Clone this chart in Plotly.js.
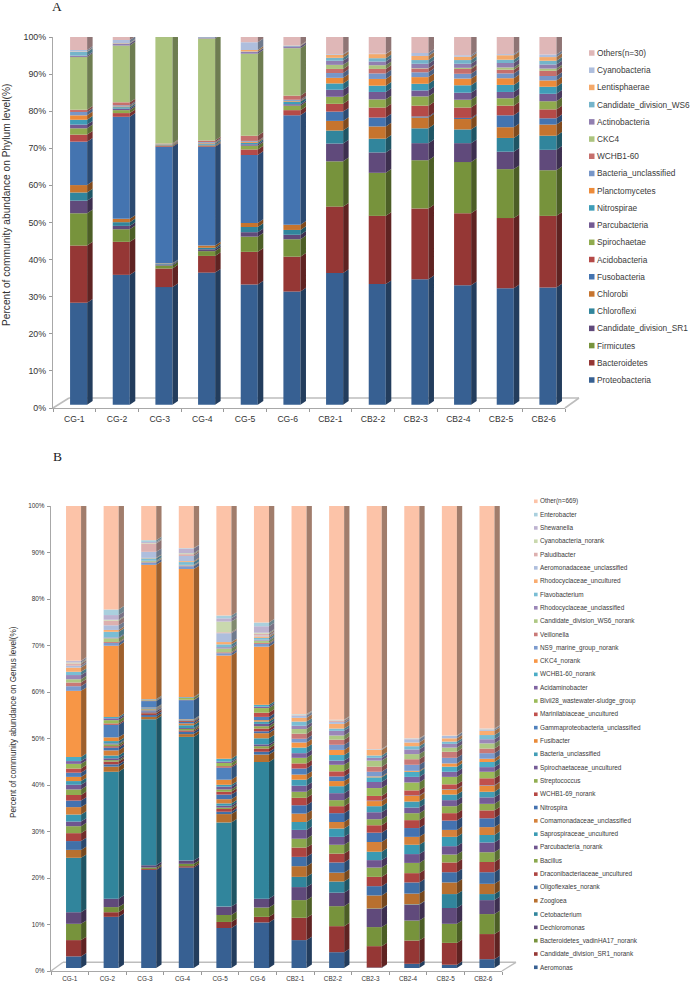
<!DOCTYPE html>
<html>
<head>
<meta charset="utf-8">
<script src="https://cdn.plot.ly/plotly-3.0.1.min.js"></script>
<style>html,body{margin:0;padding:0;background:#fff}#chart{width:692px;height:984px}</style>
</head>
<body>
<div id="chart"></div>
<script>
const categories = ['CG-1','CG-2','CG-3','CG-4','CG-5','CG-6','CB2-1','CB2-2','CB2-3','CB2-4','CB2-5','CB2-6'];
const yTicks = [0,10,20,30,40,50,60,70,80,90,100];

// Panel A – phylum level (bottom of the stack first)
const phylumNames = ['Proteobacteria','Bacteroidetes','Firmicutes','Candidate_division_SR1','Chloroflexi','Chlorobi','Fusobacteria','Acidobacteria','Spirochaetae','Parcubacteria','Nitrospirae','Planctomycetes','Bacteria_unclassified','WCHB1-60','CKC4','Actinobacteria','Candidate_division_WS6','Lentisphaerae','Cyanobacteria','Others(n=30)'];
const phylumColors = ['#376092','#953735','#77933C','#604A7B','#31859C','#C6742E','#4474B0','#B54A48','#90AB4E','#735A93','#3F9DB8','#ED8B3A','#7796C8','#C66F6C','#ACC47F','#917FB0','#74B4CA','#F4A96A','#AEBEDD','#DFB7B7'];
const proteobacteria = [27.5,35,31.7,35.6,32.4,30.5,35.5,32.5,33.8,32.2,31.4,31.6];
const bacteroidetes = [15.4,8.9,5,4.5,8.8,9.4,17.9,18.4,19.1,19.4,18.9,19.3];
const firmicutes = [8.7,3.4,.8,1.3,4.1,4.7,12.2,11.6,13,13.8,13.2,12.3];
const candidateSR1 = [3.4,.9,.3,.5,1.2,1.2,4.8,5.5,4.6,5.1,4.7,5.5];
const chloroflexi = [2.2,1,.2,.4,1.4,1.3,3.5,3.7,4,3.7,3.7,3.8];
const chlorobi = [2,.9,.1,.6,1.1,1.4,2.6,3.3,2.9,2.8,2.9,3];
const fusobacteria = [11.7,27.5,31.4,26.6,18.3,29.5,2.5,2.4,.3,.3,3.2,1.7];
const acidobacteria = [1.9,1,.2,.2,1.5,1.4,2.1,2.7,2.9,2.8,2.6,2.4];
const spirochaetae = [1.7,.8,.2,.2,1,1.2,1.9,2.2,2.5,2.1,2,2.2];
const parcubacteria = [1,.4,.1,.2,.4,.4,1.9,2,1.6,1.9,1.7,2];
const nitrospirae = [1.3,.4,.1,.3,.4,.7,1.7,1.7,1.8,2,1.9,1.9];
const planctomycetes = [1.2,.2,.1,.2,.3,.2,1.5,1.8,1.8,1.8,1.8,1.7];
const bacteriaUnclassifiedA = [.9,.3,.1,.2,.2,.3,1.3,1.5,1.3,1.3,1.3,1.2];
const wchb160 = [.6,.8,.1,.4,1.4,1.1,1.1,1.2,1,1.3,1,1.4];
const ckc4 = [14.2,15.3,28.7,27.5,22.1,12.8,1.1,1,.1,.3,.6,.6];
const actinobacteria = [.4,.5,.1,.3,.5,.5,1.1,1,1.2,1.1,1.2,1.1];
const candidateWS6 = [1,.1,.1,.1,.1,.1,.8,.9,1,1,.9,1];
const lentisphaerae = [.1,.1,.05,.05,.4,.1,.8,1.1,1.1,.9,1.2,1];
const cyanobacteria = [.4,.8,.05,.05,2.1,.1,.2,.1,.8,.4,.3,.7];
const othersA = [4.4,1.7,.6,.8,2.3,3.1,5.5,5.4,5.2,5.8,5.5,5.6];
const phylumValues = [proteobacteria,bacteroidetes,firmicutes,candidateSR1,chloroflexi,chlorobi,fusobacteria,acidobacteria,spirochaetae,parcubacteria,nitrospirae,planctomycetes,bacteriaUnclassifiedA,wchb160,ckc4,actinobacteria,candidateWS6,lentisphaerae,cyanobacteria,othersA];

// Panel B – genus level (bottom of the stack first)
const genusNames = ['Aeromonas','Candidate_division_SR1_norank','Bacteroidetes_vadinHA17_norank','Dechloromonas','Cetobacterium','Zoogloea','Oligoflexales_norank','Draconibacteriaceae_uncultured','Bacillus','Parcubacteria_norank','Saprospiraceae_uncultured','Comamonadaceae_unclassified','Nitrospira','WCHB1-69_norank','Streptococcus','Spirochaetaceae_uncultured','Bacteria_unclassified','Fusibacter','Gammaproteobacteria_unclassified','Marinilabiaceae_uncultured','Blvii28_wastewater-sludge_group','Acidaminobacter','WCHB1-60_norank','CKC4_norank','NS9_marine_group_norank','Veillonella','Candidate_division_WS6_norank','Rhodocyclaceae_unclassified','Flavobacterium','Rhodocyclaceae_uncultured','Aeromonadaceae_unclassified','Paludibacter','Cyanobacteria_norank','Shewanella','Enterobacter','Other(n=669)'];
const genusColors = ['#376092','#953735','#77933C','#604A7B','#31859C','#B8702F','#4170A8','#AD4441','#8AA84D','#6F558F','#3A9AB3','#D5813A','#4472B0','#B54744','#90AD50','#755C97','#429DB6','#E98A38','#4F81BD','#C0504D','#9BBB59','#8064A2','#4BACC6','#F79646','#7C9BCE','#C97977','#AEC884','#9B87B8','#79BDD4','#F9AC70','#AEBEDD','#DDB0AF','#C9D8AE','#BDB2D0','#AAD0DE','#FCC3A8'];
const aeromonas = [2.5,11,21.1,21.6,8.6,9.8,6,3.4,.1,.9,.7,1.9];
const sr1Norank = [3.5,1,.2,.3,1.3,1.2,4.8,5.6,4.6,5,4.7,5.4];
const vadinHA17 = [3.5,1.1,.3,.5,1.5,2,3.8,4.3,4.1,4.3,4.1,4.3];
const dechloromonas = [2.5,1.8,.5,.7,1.8,1.9,2.8,2.9,3.9,3.4,3.4,3];
const cetobacterium = [11.7,27.3,31.4,26.6,18.1,29.4,2.2,2.4,.1,.1,3,1.3];
const zoogloea = [1.7,1.1,.5,.6,1.8,1.6,2.3,1.9,2.8,2.3,2.5,2.2];
const oligoflexales = [1.9,.5,.4,.5,.5,.6,2,2.2,2,2.4,2.2,2.5];
const draconibacteriaceae = [1.7,.6,.4,.3,.6,.7,2,1.9,2,2,2.1,2.2];
const bacillus = [1.5,.3,.1,.3,.3,.5,1.9,1.9,2,2.2,1.7,2.1];
const parcubacteriaNorank = [1,.4,.3,.2,.4,.4,1.9,1.7,1.6,1.9,1.8,2.1];
const saprospiraceae = [1.5,.6,.1,.6,.5,1.3,1.7,1.8,1.8,2,2,1.6];
const comamonadaceae = [1.6,1.1,.1,.4,.9,1.1,1.8,1.4,2.1,1.7,1.5,1.7];
const nitrospira = [1.4,.6,.1,.3,1,.4,1.8,1.9,2,1.9,2,1.9];
const wchb169 = [1.2,.3,.1,.2,.6,.6,1.6,1.5,1.6,1.7,1.6,1.7];
const streptococcus = [1.2,.4,.1,.1,.5,.5,1.3,1.3,1.3,1.5,1.5,1.4];
const spirochaetaceae = [1,.2,.1,.1,.6,.5,1.3,1.5,1.5,1.2,1.3,1.4];
const bacteriaUnclassifiedB = [.8,.5,.1,.1,.4,.5,1.3,1.5,1.3,1.3,1.2,1.2];
const fusibacter = [.9,.8,.1,.1,1.1,.3,1.1,1.1,1.1,1.2,1.1,1.3];
const gammaproteobacteria = [.9,2.7,1.4,4.1,2.6,.7,1.3,1,.1,.1,.1,.1];
const marinilabiaceae = [.9,.3,.1,.1,.3,.9,1.1,1.1,1,1.1,1,1.5];
const blvii28 = [1,.7,.1,.4,.7,1,1.2,1.4,1.7,1.7,1.6,1.4];
const acidaminobacter = [.6,.4,.1,.1,.3,.3,1,.9,1.3,1.2,1.1,1];
const wchb160Norank = [.9,.3,.1,.1,.6,.4,1.2,1.2,1,1.1,1.1,1.1];
const ckc4Norank = [14.2,15.3,28.9,27.5,22.2,12.5,1.1,1.1,.2,.2,.7,.7];
const ns9Marine = [1,.6,.5,.6,.5,.6,.8,1.1,1,1.3,1.2,1.2];
const veillonella = [.8,.2,.1,.1,.2,.2,1.1,1.1,1.1,1.2,1.3,1];
const ws6Norank = [.7,.8,.2,.1,.8,.5,1,.9,1.3,1.1,.9,1.1];
const rhodoUnclassified = [.9,.2,.1,.1,.3,.2,.7,1,.6,1,.8,.9];
const flavobacterium = [.7,1.2,.5,.6,.6,.4,.9,.5,.5,.7,.5,.9];
const rhodoUncultured = [.9,.4,.1,.2,.5,.3,.8,1,1.2,.8,.7,.9];
const aeromonadaceae = [.4,1,1.3,1.1,1.9,.2,.5,.4,.05,.7,.5,.3];
const paludibacter = [.5,1,1.8,.4,.2,.4,.1,.3,.05,.05,.02,.05];
const cyanobacteriaNorank = [.2,.2,.1,.2,2.3,.2,.1,.1,.03,.05,.03,.05];
const shewanella = [.3,1,.2,1,.7,1.4,.05,.05,.03,.05,.02,.05];
const enterobacter = [.1,1.2,.4,.1,.6,.8,.05,.05,.04,.05,.03,.05];
const otherB = [33.9,22.9,8,9.7,24.2,25.7,45.4,46.6,52.9,50.6,50,48.5];
const genusValues = [aeromonas,sr1Norank,vadinHA17,dechloromonas,cetobacterium,zoogloea,oligoflexales,draconibacteriaceae,bacillus,parcubacteriaNorank,saprospiraceae,comamonadaceae,nitrospira,wchb169,streptococcus,spirochaetaceae,bacteriaUnclassifiedB,fusibacter,gammaproteobacteria,marinilabiaceae,blvii28,acidaminobacter,wchb160Norank,ckc4Norank,ns9Marine,veillonella,ws6Norank,rhodoUnclassified,flavobacterium,rhodoUncultured,aeromonadaceae,paludibacter,cyanobacteriaNorank,shewanella,enterobacter,otherB];

const W = 692, H = 984, FONT = '"Liberation Sans", Arial, sans-serif';
const px = x => x / W, py = y => 1 - y / H;
const shade = (hex, f) => {
  const n = parseInt(hex.slice(1), 16);
  return `rgb(${Math.round((n >> 16) * f)},${Math.round(((n >> 8) & 255) * f)},${Math.round((n & 255) * f)})`;
};

const traces = [], shapes = [], annotations = [];

function panel(opt) {
  const xScale = (opt.x1 - opt.x0) / categories.length;
  const yScale = (opt.y0 - opt.y1) / 100;
  const dx = opt.depthX / xScale, dy = opt.depthY / yScale, lift = opt.lift / yScale;
  const left = -0.1, width = 0.4;
  const cum = categories.map(() => lift);
  opt.values.forEach((vals, s) => {
    const base = cum.slice();
    vals.forEach((v, i) => { cum[i] += v; });
    traces.push({type:'bar', name:opt.names[s], x:categories.map((_, i) => i), y:vals, base:base,
      offset:left, width:width, xaxis:opt.xa, yaxis:opt.ya, cliponaxis:false,
      marker:{color:opt.colors[s], line:{width:0}}, showlegend:false, hoverinfo:'name+y'});
    const sx = [], sy = [];
    vals.forEach((v, i) => {
      const r = i + left + width, b = base[i], t = base[i] + v;
      sx.push(r, r + dx, r + dx, r, r, null);
      sy.push(b, b + dy, t + dy, t, b, null);
    });
    traces.push({type:'scatter', mode:'lines', x:sx, y:sy, fill:'toself', fillcolor:shade(opt.colors[s], .64),
      line:{width:0, simplify:false}, xaxis:opt.xa, yaxis:opt.ya, cliponaxis:false, showlegend:false, hoverinfo:'skip'});
    if (s === opt.values.length - 1) {
      const tx = [], ty = [];
      vals.forEach((v, i) => {
        const l = i + left, r = l + width, t = base[i] + v;
        tx.push(l, l + dx, r + dx, r, l, null);
        ty.push(t, t + dy, t + dy, t, t, null);
      });
      traces.push({type:'scatter', mode:'lines', x:tx, y:ty, fill:'toself', fillcolor:shade(opt.colors[s], .76),
        line:{width:0, simplify:false}, xaxis:opt.xa, yaxis:opt.ya, cliponaxis:false, showlegend:false, hoverinfo:'skip'});
    }
  });
  // floor of the 3-D box
  const line = {color:'#bdbdbd', width:opt.floorWidth};
  [[opt.x0, opt.y0, opt.backX0, opt.backY], [opt.backX0, opt.backY, opt.backX1, opt.backY], [opt.x1, opt.y0, opt.backX1, opt.backY]].forEach(p => {
    shapes.push({type:'line', xref:'paper', yref:'paper', layer:'below', x0:px(p[0]), y0:py(p[1]), x1:px(p[2]), y1:py(p[3]), line});
  });
  // legend, top entry first
  const count = opt.names.length;
  opt.names.forEach((name, s) => {
    const y = opt.legBottom - s * (opt.legBottom - opt.legTop) / (count - 1);
    const half = opt.legBox / 2;
    shapes.push({type:'rect', xref:'paper', yref:'paper', x0:px(opt.legX), x1:px(opt.legX + opt.legBox), y0:py(y - half), y1:py(y + half), fillcolor:opt.colors[s], line:{width:0}});
    annotations.push({text:name, xref:'paper', yref:'paper', x:px(opt.legTextX), y:py(y), xanchor:'left', yanchor:'middle', showarrow:false, borderpad:0, font:{family:FONT, size:opt.legFont, color:'#3a3a3a'}});
  });
  annotations.push({text:opt.title, xref:'paper', yref:'paper', x:px(opt.titleX), y:py(opt.titleY), xanchor:'center', yanchor:'middle', textangle:-90, showarrow:false, borderpad:0, font:{family:FONT, size:opt.titleFont, color:'#333'}});
  annotations.push({text:opt.letter, xref:'paper', yref:'paper', x:px(opt.letterX), y:py(opt.letterY), xanchor:'center', yanchor:'middle', showarrow:false, borderpad:0, font:{family:'"Liberation Serif", "Times New Roman", serif', size:13.5, color:'#222'}});
}

const A = {xa:'x', ya:'y', x0:53, x1:565, y0:408, y1:37, depthX:5.5, depthY:3.7, lift:3.3,
  backX0:69, backX1:579, backY:398, floorWidth:1.6,
  names:phylumNames, colors:phylumColors, values:phylumValues,
  legX:589, legBox:5.5, legTextX:596, legTop:53, legBottom:380, legFont:8.3,
  title:'Percent of community abundance on Phylum level(%)', titleX:6, titleY:205, titleFont:10.2,
  letter:'A', letterX:57, letterY:6};
const B = {xa:'x2', ya:'y2', x0:51, x1:502, y0:971, y1:506, depthX:5.3, depthY:3.4, lift:3,
  backX0:63, backX1:516, backY:962.3, floorWidth:1.4,
  names:genusNames, colors:genusColors, values:genusValues,
  legX:534, legBox:3.6, legTextX:539, legTop:501.3, legBottom:967.3, legFont:6.4,
  title:'Percent of community abundance on Genus level(%)', titleX:13, titleY:722, titleFont:8.2,
  letter:'B', letterX:57, letterY:457};
panel(A);
panel(B);

const xAxis = (p, size, standoff) => ({
  domain:[px(p.x0), px(p.x1)], range:[-0.5, categories.length - 0.5], anchor:p.ya,
  tickmode:'array', tickvals:categories.map((_, i) => i), ticktext:categories, ticks:'', ticklabelstandoff:standoff,
  minor:{tickmode:'array', tickvals:categories.map((_, i) => i - 0.5).concat([categories.length - 0.5]), ticks:'outside', ticklen:3, tickwidth:1, tickcolor:'#999', showgrid:false},
  showgrid:false, zeroline:false, showline:true, linecolor:'#a8a8a8', linewidth:1.2,
  tickfont:{family:FONT, size:size, color:'#333'}, fixedrange:true
});
const yAxis = (p, size, standoff) => ({
  domain:[py(p.y0), py(p.y1)], range:[0, 100], anchor:p.xa,
  tickmode:'array', tickvals:yTicks, ticktext:yTicks.map(v => v + '%'), ticks:'outside', ticklen:3, tickwidth:1, tickcolor:'#999', ticklabelstandoff:standoff,
  showgrid:false, zeroline:false, showline:true, linecolor:'#a8a8a8', linewidth:1.2,
  tickfont:{family:FONT, size:size, color:'#333'}, fixedrange:true
});

const layout = {
  width:W, height:H, margin:{l:0, r:0, t:0, b:0}, paper_bgcolor:'#fff', plot_bgcolor:'rgba(0,0,0,0)',
  barmode:'overlay', showlegend:false, shapes, annotations,
  xaxis:xAxis(A, 8.6, 2), yaxis:yAxis(A, 8.8, 1),
  xaxis2:xAxis(B, 6.4, 1), yaxis2:yAxis(B, 6.4, 1)
};
Plotly.newPlot('chart', traces, layout, {displayModeBar:false, staticPlot:true});
</script>
</body>
</html>
